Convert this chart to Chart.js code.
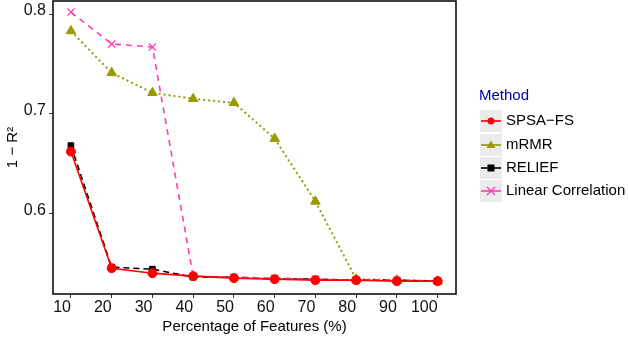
<!DOCTYPE html>
<html>
<head>
<meta charset="utf-8">
<script src="https://cdn.jsdelivr.net/npm/chart.js@4/dist/chart.umd.min.js"></script>
<style>
html,body{margin:0;padding:0;background:#fff;}
#wrap{position:relative;width:628px;height:338px;}
</style>
</head>
<body>
<div id="wrap"><canvas id="c" width="628" height="338"></canvas></div>
<script>
const features = [10, 20, 30, 40, 50, 60, 70, 80, 90, 100];
const xTicks = [10, 20, 30, 40, 50, 60, 70, 80, 90, 100];
const yTicks = [0.6, 0.7, 0.8];
const methods = ["SPSA\u2212FS", "mRMR", "RELIEF", "Linear Correlation"];
const spsaFS = [0.662, 0.545, 0.540, 0.537, 0.535, 0.534, 0.533, 0.533, 0.532, 0.532];
const mRMR = [0.783, 0.741, 0.721, 0.715, 0.711, 0.675, 0.612, 0.534, 0.533, 0.532];
const relief = [0.668, 0.546, 0.544, 0.536, 0.536, 0.534, 0.534, 0.533, 0.533, 0.532];
const linearCorr = [0.802, 0.770, 0.767, 0.537, 0.536, 0.535, 0.534, 0.533, 0.533, 0.532];

const colors = ["#FF0000", "#999900", "#000000", "#FF3FB0"];
const pstyles = ["circle", "triangle", "rect", "crossRot"];
const pradius = [4.5, 5.5, 4, 5];
const dashes = [[], [2, 3], [6, 4], [6, 5]];

function toXY(arr){ return arr.map((v,i)=>({x:features[i], y:v})); }

const seriesList = [spsaFS, mRMR, relief, linearCorr];
const drawOrder = [0, 3, 2, 1];
const datasets = seriesList.map((s,i)=>({
  label: methods[i],
  data: toXY(s),
  borderColor: colors[i],
  backgroundColor: colors[i],
  borderWidth: i===1 ? 2 : 1.6,
  borderDash: dashes[i],
  pointStyle: pstyles[i],
  pointRadius: pradius[i],
  pointBorderWidth: i===3 ? 1.3 : 1,
  pointBorderColor: colors[i],
  pointBackgroundColor: colors[i],
  tension: 0,
  order: drawOrder[i]
}));

const FONT = "'Liberation Sans', Arial, Helvetica, sans-serif";

const framePlugin = {
  id: 'frame',
  afterDraw(chart){
    const ctx = chart.ctx, a = chart.chartArea;
    ctx.save();
    ctx.strokeStyle = '#000';
    ctx.lineWidth = 1.5;
    ctx.strokeRect(a.left, a.top, a.right - a.left, a.bottom - a.top);
    ctx.font = "15px " + FONT;
    ctx.fillStyle = '#0000A0';
    ctx.textBaseline = 'middle';
    ctx.textAlign = 'left';
    ctx.fillText("Method", 479, 96);
    const rows = [121, 145, 168, 191];
    for (let i=0;i<4;i++){
      const cy = rows[i];
      ctx.fillStyle = '#EBEBEB';
      ctx.fillRect(480, cy-11, 22, 22);
      ctx.strokeStyle = colors[i];
      ctx.lineWidth = 1.6;
      ctx.setLineDash([]);
      ctx.beginPath(); ctx.moveTo(481, cy); ctx.lineTo(501, cy); ctx.stroke();
      ctx.fillStyle = colors[i];
      ctx.beginPath();
      const px = 491;
      if (i===0){ ctx.arc(px, cy, 3.5, 0, Math.PI*2); ctx.fill(); }
      else if (i===1){ ctx.moveTo(px, cy-4.5); ctx.lineTo(px+4.5, cy+3); ctx.lineTo(px-4.5, cy+3); ctx.closePath(); ctx.fill(); }
      else if (i===2){ ctx.fillRect(px-3.5, cy-3.5, 7, 7); }
      else { ctx.lineWidth=1.3; ctx.moveTo(px-4,cy-4); ctx.lineTo(px+4,cy+4); ctx.moveTo(px+4,cy-4); ctx.lineTo(px-4,cy+4); ctx.stroke(); }
      ctx.fillStyle = '#000';
      ctx.fillText(methods[i], 506, cy);
    }
    ctx.restore();
  }
};

new Chart(document.getElementById('c'), {
  type: 'line',
  data: { datasets },
  plugins: [framePlugin],
  options: {
    responsive: false,
    animation: false,
    devicePixelRatio: 1,
    layout: { autoPadding: false, padding: { top: 1, right: 172, bottom: 0, left: 0 } },
    plugins: { legend: { display: false }, tooltip: { enabled: false } },
    scales: {
      x: {
        type: 'linear',
        min: 5.6, max: 104.5,
        afterBuildTicks: s => { s.ticks = xTicks.map(v=>({value:v})); },
        afterFit: s => { s.height = 44; s.paddingLeft = 0; s.paddingRight = 0; },
        grid: { drawOnChartArea: false, drawTicks: true, tickLength: 4, color: '#333', lineWidth: 1 },
        border: { display: false },
        ticks: { color: '#111', font: { size: 16, family: FONT }, padding: 0, maxRotation: 0, autoSkip: false, align: 'end' },
        title: { display: true, text: 'Percentage of Features (%)', color: '#000', font: { size: 15, family: FONT }, padding: { top: 0, bottom: 2 } }
      },
      y: {
        type: 'linear',
        min: 0.5191, max: 0.8131,
        afterBuildTicks: s => { s.ticks = yTicks.map(v=>({value:v})); },
        afterFit: s => { s.width = 53; s.paddingTop = 0; s.paddingBottom = 0; },
        grid: { drawOnChartArea: false, drawTicks: true, tickLength: 4, color: '#333', lineWidth: 1 },
        border: { display: false },
        ticks: { color: '#111', font: { size: 16, family: FONT }, padding: 3, align: 'center', labelOffset: -3, callback: v => v.toFixed(1) },
        title: { display: true, text: '1 \u2212 R\u00B2', color: '#000', font: { size: 15, family: FONT }, padding: { top: 4, bottom: 0 } }
      }
    }
  }
});
</script>
</body>
</html>
